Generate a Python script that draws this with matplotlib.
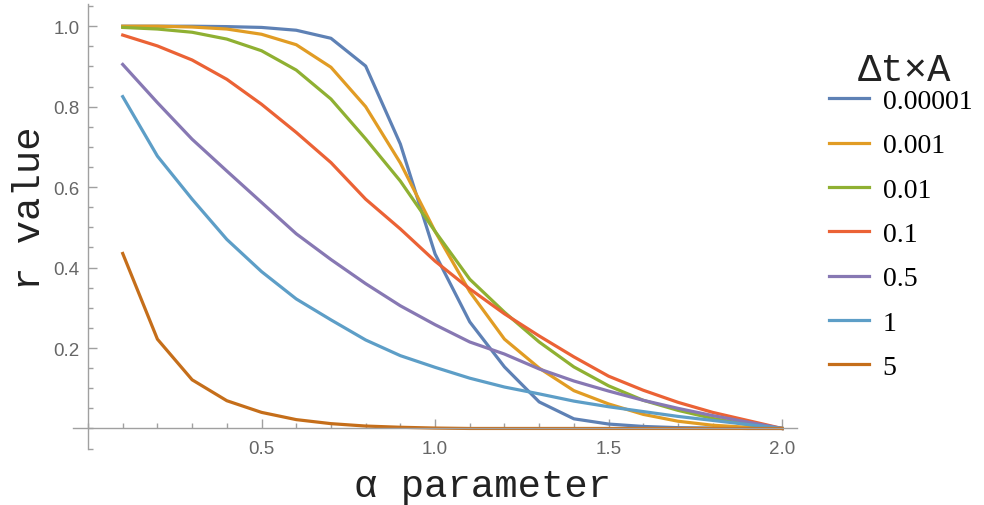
import matplotlib
matplotlib.use("Agg")
import matplotlib.pyplot as plt
from matplotlib.ticker import MultipleLocator, FixedLocator

# alpha grid and r value for each Delta t x A setting
alpha = [0.1, 0.2, 0.3, 0.4, 0.5, 0.6, 0.7, 0.8, 0.9, 1.0,
         1.1, 1.2, 1.3, 1.4, 1.5, 1.6, 1.7, 1.8, 1.9, 2.0]

r_00001 = [1.000, 1.000, 1.000, 0.999, 0.997, 0.990, 0.970, 0.901, 0.707, 0.434,
           0.265, 0.153, 0.066, 0.024, 0.011, 0.005, 0.002, 0.001, 0.000, 0.000]
r_0001 = [1.000, 1.000, 0.998, 0.993, 0.980, 0.954, 0.898, 0.800, 0.660, 0.490,
          0.340, 0.222, 0.150, 0.094, 0.061, 0.035, 0.018, 0.008, 0.003, 0.000]
r_001 = [0.997, 0.993, 0.985, 0.968, 0.939, 0.891, 0.819, 0.720, 0.615, 0.490,
         0.371, 0.289, 0.215, 0.153, 0.106, 0.070, 0.045, 0.025, 0.010, 0.000]
r_01 = [0.978, 0.951, 0.916, 0.868, 0.806, 0.736, 0.661, 0.570, 0.496, 0.416,
        0.347, 0.285, 0.230, 0.178, 0.130, 0.095, 0.065, 0.040, 0.020, 0.000]
r_05 = [0.905, 0.810, 0.719, 0.640, 0.562, 0.484, 0.420, 0.360, 0.305, 0.258,
        0.215, 0.185, 0.148, 0.118, 0.093, 0.070, 0.050, 0.032, 0.016, 0.000]
r_1 = [0.825, 0.677, 0.570, 0.470, 0.390, 0.322, 0.270, 0.220, 0.181, 0.152,
       0.125, 0.103, 0.086, 0.068, 0.054, 0.042, 0.030, 0.020, 0.010, 0.000]
r_5 = [0.435, 0.222, 0.121, 0.069, 0.040, 0.022, 0.012, 0.006, 0.003, 0.001,
       0.000, 0.000, 0.000, 0.000, 0.000, 0.000, 0.000, 0.000, 0.000, 0.000]

series = [r_00001, r_0001, r_001, r_01, r_05, r_1, r_5]
labels = ["0.00001", "0.001", "0.01", "0.1", "0.5", "1", "5"]
colors = ["#5E81B5", "#E19C24", "#8FB032", "#EB6235", "#8778B3", "#5D9EC7", "#C56E1A"]

mono = ["Liberation Mono", "DejaVu Sans Mono"]
axis_grey = "#a0a0a0"
label_grey = "#666666"

fig = plt.figure(figsize=(9.84, 5.06), dpi=100)
ax = fig.add_axes([0.0742, 0.1107, 0.7358, 0.879])

for ys, lab, col in zip(series, labels, colors):
    ax.plot(alpha, ys, color=col, lw=2.3, label=lab, solid_joinstyle="round")

ax.set_xlim(-0.0432, 2.043)
ax.set_ylim(-0.051, 1.0547)

# axes crossing at the origin
for side in ["top", "right"]:
    ax.spines[side].set_visible(False)
for side in ["left", "bottom"]:
    ax.spines[side].set_position(("data", 0))
    ax.spines[side].set_color(axis_grey)
    ax.spines[side].set_linewidth(1.0)

ax.xaxis.set_major_locator(FixedLocator([0.5, 1.0, 1.5, 2.0]))
ax.xaxis.set_minor_locator(MultipleLocator(0.1))
ax.yaxis.set_major_locator(FixedLocator([0.2, 0.4, 0.6, 0.8, 1.0]))
ax.yaxis.set_minor_locator(MultipleLocator(0.05))
ax.tick_params(which="both", direction="in", color=axis_grey, width=1.0)
ax.tick_params(which="major", length=6.5)
ax.tick_params(which="minor", length=3.8)
ax.tick_params(axis="x", pad=8, labelsize=13.5, labelcolor=label_grey)
ax.tick_params(axis="y", pad=6, labelsize=13.5, labelcolor=label_grey)
for t in ax.get_xticklabels() + ax.get_yticklabels():
    t.set_family(["Liberation Sans", "DejaVu Sans"])

ax.set_xlabel("α parameter", family=mono, fontsize=28, color="#222222", va="center")
ax.xaxis.set_label_coords(0.566, -0.083)
ax.set_ylabel("r value", family=mono, fontsize=28, color="#222222", va="center")
ax.yaxis.set_label_coords(-0.059, 0.544)

leg = ax.legend(loc="upper left", bbox_to_anchor=(0.8311, 0.845), bbox_transform=fig.transFigure,
                frameon=False, borderaxespad=0, handlelength=1.44, handletextpad=0.5,
                labelspacing=0.68, prop={"family": ["Liberation Serif", "DejaVu Serif"], "size": 20})
for h in leg.legend_handles:
    h.set_linewidth(2.3)

# legend heading
fig.text(0.9187, 0.8597, "Δt×A", family=mono, fontsize=28, color="#222222",
         ha="center", va="center")

fig.savefig("out.png", dpi=100)
